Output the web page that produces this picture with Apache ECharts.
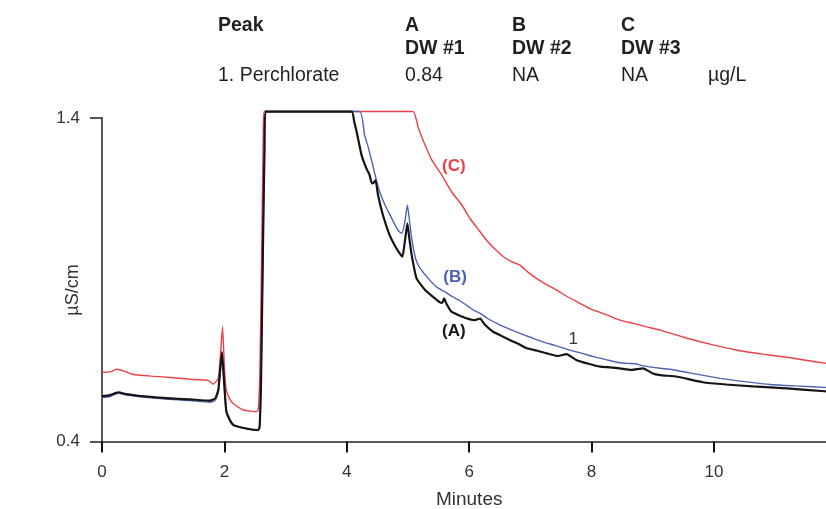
<!DOCTYPE html>
<html>
<head>
<meta charset="utf-8">
<script src="https://cdn.jsdelivr.net/npm/echarts@6/dist/echarts.min.js"></script>
<style>
  html, body { margin: 0; padding: 0; background: #fff; }
  #chart { width: 826px; height: 509px; }
</style>
</head>
<body>
<div id="chart"></div>
<script>
// Conductivity traces (µS/cm) vs retention time (min), three drinking-water samples.
// Each point is [minutes, µS/cm]; the detector output saturates at ~1.42.

const traceA = [ // DW #1 (black)
  [0, 0.540], [0.13, 0.543], [0.2, 0.548], [0.27, 0.552], [0.4, 0.546], [0.6, 0.541],
  [0.89, 0.536], [1.2, 0.532], [1.44, 0.530], [1.76, 0.526], [1.85, 0.533], [1.9, 0.559],
  [1.935, 0.63], [1.96, 0.676], [1.99, 0.60], [2.03, 0.495], [2.09, 0.466], [2.14, 0.452],
  [2.2, 0.447], [2.36, 0.440], [2.55, 0.435], [2.575, 0.445], [2.6, 0.60], [2.63, 1.00],
  [2.655, 1.30], [2.67, 1.42], [4.08, 1.42], [4.12, 1.39], [4.16, 1.358], [4.24, 1.286],
  [4.32, 1.244], [4.37, 1.225], [4.41, 1.198], [4.44, 1.200], [4.47, 1.208], [4.51, 1.162],
  [4.59, 1.100], [4.70, 1.038], [4.81, 0.997], [4.87, 0.980], [4.91, 0.971], [4.95, 1.020],
  [4.99, 1.074], [5.02, 1.030], [5.06, 0.976], [5.14, 0.904], [5.28, 0.868], [5.44, 0.842],
  [5.52, 0.830], [5.56, 0.828], [5.59, 0.842], [5.63, 0.825], [5.71, 0.801], [5.88, 0.786],
  [6.0, 0.778], [6.09, 0.775], [6.18, 0.780], [6.25, 0.762], [6.39, 0.739], [6.52, 0.727],
  [6.67, 0.713], [6.8, 0.702], [6.94, 0.688], [7.1, 0.681], [7.27, 0.672], [7.45, 0.664],
  [7.59, 0.670], [7.75, 0.652], [7.95, 0.640], [8.14, 0.631], [8.3, 0.629], [8.46, 0.626],
  [8.65, 0.621], [8.84, 0.626], [9.0, 0.610], [9.12, 0.605], [9.4, 0.600], [9.82, 0.583],
  [10.2, 0.576], [10.64, 0.570], [11.19, 0.564], [11.81, 0.555], [12.0, 0.554]
];

const traceB = [ // DW #2 (blue)
  [0, 0.536], [0.13, 0.539], [0.27, 0.549], [0.4, 0.543], [0.89, 0.533], [1.44, 0.526],
  [1.76, 0.521], [1.85, 0.527], [1.9, 0.553], [1.96, 0.668], [1.99, 0.595], [2.03, 0.490],
  [2.09, 0.463], [2.14, 0.450], [2.36, 0.439], [2.55, 0.434], [2.575, 0.445], [2.6, 0.60],
  [2.63, 1.00], [2.655, 1.30], [2.67, 1.42], [4.21, 1.42], [4.29, 1.347], [4.35, 1.310],
  [4.41, 1.265], [4.51, 1.188], [4.58, 1.150], [4.65, 1.121], [4.72, 1.095], [4.79, 1.069],
  [4.85, 1.050], [4.9, 1.043], [4.95, 1.080], [4.99, 1.131], [5.02, 1.090], [5.06, 1.028],
  [5.10, 0.985], [5.14, 0.956], [5.2, 0.935], [5.33, 0.904], [5.47, 0.877], [5.6, 0.863],
  [5.72, 0.848], [5.85, 0.835], [6.07, 0.806], [6.18, 0.796], [6.3, 0.780], [6.5, 0.760],
  [6.65, 0.748], [6.83, 0.734], [7.0, 0.722], [7.2, 0.708], [7.4, 0.697], [7.65, 0.682],
  [7.85, 0.672], [8.03, 0.662], [8.25, 0.652], [8.46, 0.643], [8.63, 0.641], [8.72, 0.640],
  [8.79, 0.636], [9.12, 0.626], [9.28, 0.623], [9.6, 0.612], [10.1, 0.595], [10.5, 0.585],
  [10.92, 0.576], [11.4, 0.571], [11.81, 0.567], [12.0, 0.565]
];

const traceC = [ // DW #3 (red)
  [0, 0.614], [0.13, 0.615], [0.24, 0.623], [0.35, 0.618], [0.51, 0.607], [0.8, 0.602],
  [1.16, 0.597], [1.45, 0.592], [1.74, 0.588], [1.82, 0.577], [1.9, 0.595], [1.94, 0.68],
  [1.97, 0.755], [2.0, 0.63], [2.03, 0.559], [2.09, 0.530], [2.14, 0.518], [2.31, 0.497],
  [2.53, 0.492], [2.555, 0.500], [2.58, 0.62], [2.61, 1.00], [2.635, 1.35], [2.65, 1.42],
  [5.08, 1.42], [5.17, 1.368], [5.28, 1.316], [5.39, 1.270], [5.55, 1.224], [5.71, 1.172],
  [5.88, 1.131], [6.01, 1.090], [6.15, 1.055], [6.28, 1.023], [6.42, 0.995], [6.56, 0.971],
  [6.70, 0.955], [6.83, 0.945], [6.95, 0.925], [7.1, 0.904], [7.25, 0.886], [7.43, 0.868],
  [7.6, 0.848], [7.81, 0.827], [8.0, 0.808], [8.25, 0.791], [8.45, 0.776], [8.68, 0.765],
  [8.9, 0.754], [9.12, 0.744], [9.56, 0.719], [9.95, 0.700], [10.38, 0.682], [10.8, 0.670],
  [11.19, 0.660], [11.5, 0.651], [11.81, 0.642], [12.0, 0.638]
];

// Axis ticks
const xTicks = [0, 2, 4, 6, 8, 10];
const yTicks = [0.4, 1.4];

// Trace labels anchored in data space [minutes, µS/cm]
const traceLabels = { A: [5.75, 0.74], B: [5.77, 0.908], C: [5.75, 1.25] };
const peakLabels = [['1', 7.70, 0.717]];

// Peak table
const tableHeader = 'Peak';
const sampleIds = ['A', 'B', 'C'];
const sampleNames = ['DW #1', 'DW #2', 'DW #3'];
const analyteName = '1. Perchlorate';
const analyteValues = ['0.84', 'NA', 'NA'];
const analyteUnit = 'µg/L';

const FONT = '"Liberation Sans", Arial, Helvetica, sans-serif';
const INK = '#231f20';

const colX = [405, 512, 621];
const rowY = [25.5, 48.7, 75.5];

function txt(text, x, y, bold, size, color) {
  return {
    type: 'text', x: x, y: y, silent: true,
    style: {
      text: text, fill: color || INK, fontFamily: FONT, fontSize: size || 19.5,
      fontWeight: bold ? 'bold' : 'normal',
      align: 'left', verticalAlign: 'middle',
      textAlign: 'left', textVerticalAlign: 'middle'
    }
  };
}

const graphics = [txt(tableHeader, 218, rowY[0], true)];
sampleIds.forEach((s, i) => graphics.push(txt(s, colX[i], rowY[0], true)));
sampleNames.forEach((s, i) => graphics.push(txt(s, colX[i], rowY[1], true)));
graphics.push(txt(analyteName, 218, rowY[2], false));
analyteValues.forEach((s, i) => graphics.push(txt(s, colX[i], rowY[2], false)));
graphics.push(txt(analyteUnit, 708, rowY[2], false));

// y-axis title, reading bottom to top
graphics.push({
  type: 'text', x: 73, y: 290, rotation: Math.PI / 2, silent: true,
  style: {
    text: 'µS/cm', fill: '#333', fontFamily: FONT, fontSize: 18,
    align: 'center', verticalAlign: 'middle',
    textAlign: 'center', textVerticalAlign: 'middle'
  }
});

function labelPoint(text, coord, color, bold) {
  return {
    coord: coord, symbol: 'circle', symbolSize: 1,
    itemStyle: { color: 'rgba(0,0,0,0)' },
    label: {
      show: true, position: 'inside', formatter: text, color: color,
      fontFamily: FONT, fontSize: 17, fontWeight: bold ? 'bold' : 'normal'
    }
  };
}

function trace(name, data, color, width, marks) {
  return {
    name: name, type: 'line', data: data, showSymbol: false, symbol: 'none',
    clip: false, smooth: 0.15,
    lineStyle: { color: color, width: width },
    markPoint: { silent: true, animation: false, data: marks }
  };
}

const RED = '#ef3e48', BLUE = '#4d62b3', BLACK = '#151515';

const option = {
  animation: false,
  backgroundColor: '#ffffff',
  grid: {
    left: 102, top: 118, width: 734.4, height: 323.4,
    containLabel: false, outerBoundsMode: 'none'
  },
  xAxis: {
    type: 'value', min: 0, max: 12, interval: 2,
    name: 'Minutes', nameLocation: 'middle', nameGap: 49,
    nameTextStyle: { color: '#333', fontFamily: FONT, fontSize: 19 },
    axisLine: { lineStyle: { color: '#222', width: 1.5 } },
    axisTick: { show: true, length: 11, lineStyle: { color: '#111', width: 2 } },
    axisLabel: {
      color: '#333', fontFamily: FONT, fontSize: 17, margin: 22,
      showMaxLabel: false,
      formatter: v => (xTicks.indexOf(v) >= 0 ? String(v) : '')
    },
    splitLine: { show: false }
  },
  yAxis: {
    type: 'value', min: 0.4, max: 1.4,
    axisLine: { show: true, lineStyle: { color: '#222', width: 1.5 } },
    axisTick: { show: true, length: 12, customValues: yTicks, lineStyle: { color: '#222', width: 1.5 } },
    axisLabel: {
      color: '#333', fontFamily: FONT, fontSize: 17, margin: 22,
      customValues: yTicks, formatter: v => v.toFixed(1)
    },
    splitLine: { show: false }
  },
  graphic: graphics,
  series: [
    trace('DW #3', traceC, RED, 1.4, [labelPoint('(C)', traceLabels.C, RED, true)]),
    trace('DW #2', traceB, BLUE, 1.4, [labelPoint('(B)', traceLabels.B, BLUE, true)]),
    trace('DW #1', traceA, BLACK, 2.2, [labelPoint('(A)', traceLabels.A, BLACK, true)]
      .concat(peakLabels.map(p => labelPoint(p[0], [p[1], p[2]], '#333', false))))
  ]
};

const chart = echarts.init(document.getElementById('chart'), null, { renderer: 'canvas' });
chart.setOption(option);
</script>
</body>
</html>
